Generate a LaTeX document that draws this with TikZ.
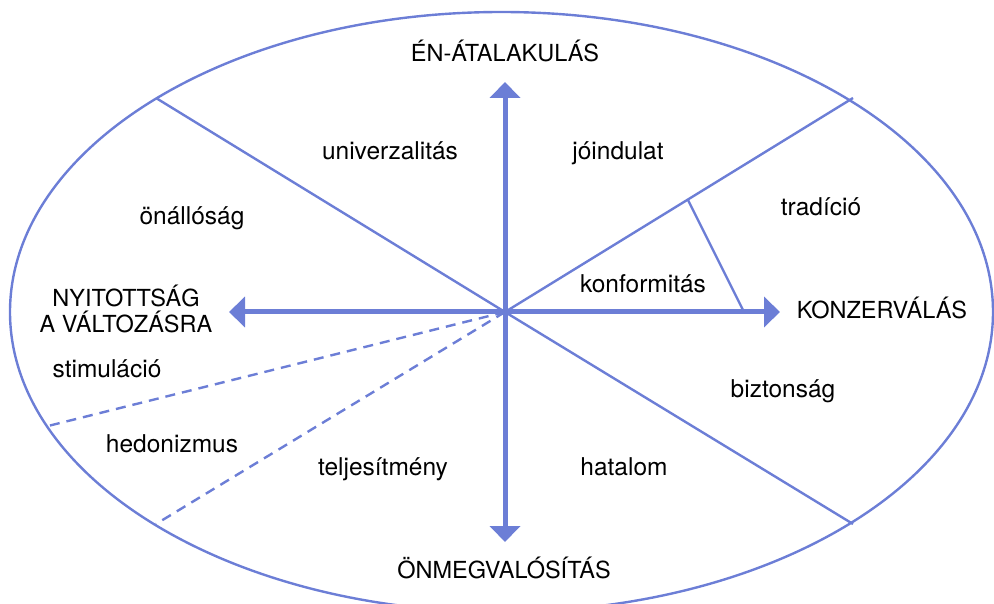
\documentclass[tikz,border=0pt]{standalone}
\usepackage{fontspec}
\setmainfont{TeX Gyre Heros}
\usetikzlibrary{arrows.meta}
\definecolor{lineblue}{RGB}{108,126,214}
\tikzset{
  thin line/.style={draw=lineblue, line width=2.4pt},
  dash line/.style={draw=lineblue, line width=2.4pt, dash pattern=on 10pt off 7pt},
  axis/.style={draw=lineblue, line width=5pt, -{Triangle[length=16pt,width=30pt]}},
  lbl/.style={anchor=base, font=\fontsize{24.5}{26}\selectfont, text=black, inner sep=0pt},
  caplbl/.style={anchor=base, font=\fontsize{23.5}{26}\selectfont, text=black, inner sep=0pt}
}
\begin{document}
\begin{tikzpicture}[x=1pt,y=-1pt]
\useasboundingbox (0,0) rectangle (994,604);
\begin{scope}
\clip (0,0) rectangle (994,604);
\draw[thin line] (501.5,312) ellipse [x radius=491.5, y radius=300];
\end{scope}
\coordinate (c) at (505,312);
\coordinate (ul) at (156,98);
\coordinate (ur) at (853,98);
\coordinate (lr) at (853,524);
\coordinate (ll) at (156,524);
\coordinate (dl) at (48,426);
\coordinate (kf1) at (688,200);
\coordinate (kf2) at (744,312);
\coordinate (top) at (505,82);
\coordinate (bot) at (505,542);
\coordinate (lft) at (229,312);
\coordinate (rgt) at (780,312);
\draw[thin line] (c) -- (ul);
\draw[thin line] (c) -- (ur);
\draw[thin line] (c) -- (lr);
\draw[thin line] (kf1) -- (kf2);
\draw[dash line] (c) -- (ll);
\draw[dash line] (c) -- (dl);
\draw[axis] (c) -- (top);
\draw[axis] (c) -- (bot);
\draw[axis] (c) -- (lft);
\draw[axis] (c) -- (rgt);
\node[caplbl] (t1) at (505,62) {ÉN-ÁTALAKULÁS};
\node[caplbl] (t2) at (504,578) {ÖNMEGVALÓSÍTÁS};
\node[caplbl] (t3) at (882,319) {KONZERVÁLÁS};
\node[caplbl] (t4a) at (126,307) {NYITOTTSÁG};
\node[caplbl] (t4b) at (126,333) {A VÁLTOZÁSRA};
\node[lbl] (l1) at (390,160) {univerzalitás};
\node[lbl] (l2) at (618,160) {jóindulat};
\node[lbl] (l3) at (192,225) {önállóság};
\node[lbl] (l4) at (821,216) {tradíció};
\node[lbl] (l5) at (643,293) {konformitás};
\node[lbl] (l6) at (783,397) {biztonság};
\node[lbl] (l7) at (107,377) {stimuláció};
\node[lbl] (l8) at (172,452) {hedonizmus};
\node[lbl] (l9) at (383,475) {teljesítmény};
\node[lbl] (l10) at (624,475) {hatalom};
\end{tikzpicture}
\end{document}
